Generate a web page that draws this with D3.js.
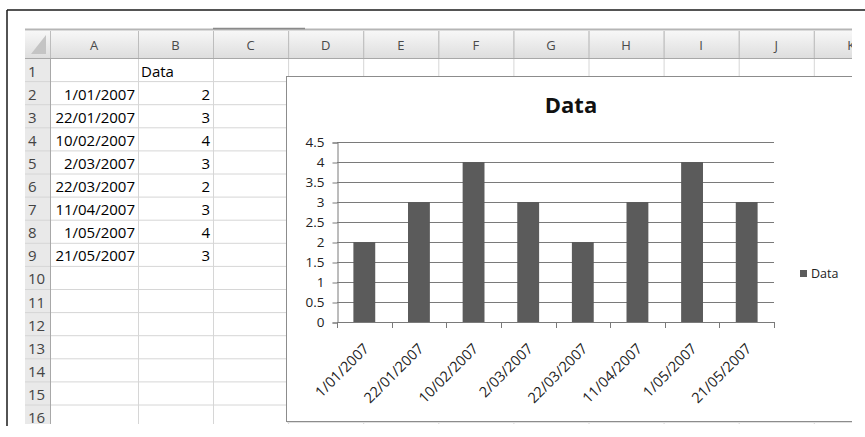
<!DOCTYPE html>
<html>
<head>
<meta charset="utf-8">
<script src="https://cdn.jsdelivr.net/npm/d3@7"></script>
<style>
  body { margin: 0; background: #fff; }
  svg { display: block; font-family: "Open Sans", sans-serif; }
</style>
</head>
<body>
<div id="sheet"></div>
<script>
// data
const dates = ["1/01/2007", "22/01/2007", "10/02/2007", "2/03/2007", "22/03/2007", "11/04/2007", "1/05/2007", "21/05/2007"];
const values = [2, 3, 4, 3, 2, 3, 4, 3];
const yTicks = [0, 0.5, 1, 1.5, 2, 2.5, 3, 3.5, 4, 4.5];
const columns = ["A", "B", "C", "D", "E", "F", "G", "H", "I", "J", "K"];
const rowNumbers = d3.range(1, 17);
const seriesName = "Data";

const W = 865, H = 437;

const svg = d3.select("#sheet").append("svg")
  .attr("width", W)
  .attr("height", H);

const defs = svg.append("defs");

defs.append("clipPath").attr("id", "sheetClip")
  .append("rect").attr("x", 8).attr("y", 11).attr("width", 844).attr("height", 413);

const hdrGrad = defs.append("linearGradient")
  .attr("id", "hdrGrad").attr("x1", 0).attr("y1", 0).attr("x2", 0).attr("y2", 1);
hdrGrad.append("stop").attr("offset", "0%").attr("stop-color", "#f7f7f7");
hdrGrad.append("stop").attr("offset", "100%").attr("stop-color", "#dedede");

// outer frame
svg.append("line").attr("x1", 7).attr("y1", 10).attr("x2", W).attr("y2", 10)
  .attr("stroke", "#1a1a1a").attr("stroke-width", 1.5);
svg.append("line").attr("x1", 7).attr("y1", 10).attr("x2", 7).attr("y2", 426)
  .attr("stroke", "#1a1a1a").attr("stroke-width", 1.5);

// ---------- spreadsheet ----------
const sheet = svg.append("g").attr("clip-path", "url(#sheetClip)");

const left = 25, hdrTop = 31, hdrBottom = 58, rowH = 23.1;
const edges = [50, 138, 213];
while (edges.length < columns.length + 1) edges.push(edges[edges.length - 1] + 75.1);

const rowY = d3.scaleLinear().domain([1, 2]).range([hdrBottom, hdrBottom + rowH]);

// top border of the grid
sheet.append("line").attr("x1", left).attr("x2", 852).attr("y1", 29.5).attr("y2", 29.5)
  .attr("stroke", "#b5b5b5").attr("stroke-width", 2);
sheet.append("line").attr("x1", 213).attr("x2", 305).attr("y1", 28.5).attr("y2", 28.5)
  .attr("stroke", "#8a8a8a").attr("stroke-width", 1.5);

// column header band
sheet.append("rect").attr("x", left).attr("y", hdrTop).attr("width", 852 - left).attr("height", hdrBottom - hdrTop)
  .attr("fill", "url(#hdrGrad)");
// row header band
sheet.append("rect").attr("x", left).attr("y", hdrBottom).attr("width", edges[0] - left).attr("height", 400)
  .attr("fill", "#e9e9e9");

// corner triangle
sheet.append("path")
  .attr("d", `M${edges[0] - 4},${hdrTop + 4} L${edges[0] - 4},${hdrBottom - 4} L${left + 6},${hdrBottom - 4} Z`)
  .attr("fill", "#c4c4c4");

// grid lines
sheet.selectAll(".hline").data(rowNumbers).enter().append("line")
  .attr("x1", left).attr("x2", 852)
  .attr("y1", d => rowY(d + 1) + 0.5).attr("y2", d => rowY(d + 1) + 0.5)
  .attr("stroke", "#d6d6d6");
sheet.selectAll(".vline").data(edges).enter().append("line")
  .attr("x1", d => d + 0.5).attr("x2", d => d + 0.5)
  .attr("y1", hdrTop).attr("y2", 430)
  .attr("stroke", (d, i) => i === 0 ? "#a8a8a8" : "#d6d6d6");
sheet.selectAll(".hdrsep").data(edges).enter().append("line")
  .attr("x1", d => d + 0.5).attr("x2", d => d + 0.5)
  .attr("y1", hdrTop).attr("y2", hdrBottom)
  .attr("stroke", "#bdbdbd");
sheet.append("line").attr("x1", left).attr("x2", 852).attr("y1", hdrBottom + 0.5).attr("y2", hdrBottom + 0.5)
  .attr("stroke", "#a8a8a8");

// column letters
sheet.selectAll(".colLbl").data(columns).enter().append("text")
  .attr("x", (d, i) => (edges[i] + edges[i + 1]) / 2)
  .attr("y", 50)
  .attr("text-anchor", "middle")
  .style("font-size", "13px")
  .style("fill", "#4a4a4a")
  .text(d => d);

// row numbers
sheet.selectAll(".rowLbl").data(rowNumbers).enter().append("text")
  .attr("x", 28)
  .attr("y", d => rowY(d) + 18.5)
  .style("font-size", "15px")
  .style("fill", "#444")
  .text(d => d);

// cell contents
sheet.append("text").attr("x", 141).attr("y", rowY(1) + 18.5)
  .style("font-size", "15px").style("fill", "#000").text(seriesName);
sheet.selectAll(".dateCell").data(dates).enter().append("text")
  .attr("x", 135).attr("y", (d, i) => rowY(i + 2) + 18.5)
  .attr("text-anchor", "end")
  .style("font-size", "15px").style("fill", "#000")
  .text(d => d);
sheet.selectAll(".valCell").data(values).enter().append("text")
  .attr("x", 210).attr("y", (d, i) => rowY(i + 2) + 18.5)
  .attr("text-anchor", "end")
  .style("font-size", "15px").style("fill", "#000")
  .text(d => d);

// ---------- embedded chart ----------
const chart = sheet.append("g");

chart.append("rect")
  .attr("x", 287).attr("y", 77).attr("width", 600).attr("height", 346)
  .attr("fill", "#e0e0e0");
chart.append("rect")
  .attr("x", 286.5).attr("y", 76.5).attr("width", 600).attr("height", 345)
  .attr("fill", "#fff")
  .attr("stroke", "#8c8c8c");

const x = d3.scaleBand()
  .domain(dates)
  .range([337, 774])
  .paddingInner(0.6)
  .paddingOuter(0.3);

const y = d3.scaleLinear()
  .domain([0, 4.5])
  .range([322, 142]);

// gridlines
chart.selectAll(".grid").data(yTicks.filter(v => v > 0)).enter().append("line")
  .attr("x1", 337).attr("x2", 774)
  .attr("y1", d => Math.round(y(d)) + 0.5).attr("y2", d => Math.round(y(d)) + 0.5)
  .attr("stroke", "#7a7a7a");

// bars
chart.selectAll(".bar").data(values).enter().append("rect")
  .attr("x", (d, i) => x(dates[i]))
  .attr("width", x.bandwidth())
  .attr("y", d => y(d))
  .attr("height", d => y(0) - y(d))
  .attr("fill", "#5b5b5b");

// y axis
chart.append("g")
  .attr("transform", "translate(337.5,0.5)")
  .call(d3.axisLeft(y).tickValues(yTicks).tickSize(5).tickPadding(8).tickFormat(d3.format("")))
  .call(g => g.select(".domain").attr("stroke", "#7a7a7a"))
  .call(g => g.selectAll(".tick line").attr("stroke", "#7a7a7a"))
  .call(g => g.selectAll("text")
    .style("font-family", "Open Sans, sans-serif")
    .style("font-size", "13.5px")
    .style("fill", "#222"));

// x axis line and boundary ticks
const step = x.step();
const bounds = dates.map(d => x(d) - step * x.paddingInner() / 2);
bounds.push(bounds[bounds.length - 1] + step);
chart.append("line")
  .attr("x1", 337).attr("x2", 774).attr("y1", 322.5).attr("y2", 322.5)
  .attr("stroke", "#7a7a7a");
chart.selectAll(".xtick").data(bounds).enter().append("line")
  .attr("x1", d => Math.round(d) + 0.5).attr("x2", d => Math.round(d) + 0.5)
  .attr("y1", 322).attr("y2", 328)
  .attr("stroke", "#7a7a7a");

// x labels
chart.append("g")
  .attr("transform", "translate(0,322)")
  .call(d3.axisBottom(x).tickSize(0).tickPadding(0))
  .call(g => g.select(".domain").remove())
  .selectAll("text")
  .attr("transform", "translate(2,24) rotate(-45)")
  .attr("dy", "0.35em")
  .style("text-anchor", "end")
  .style("font-family", "Open Sans, sans-serif")
  .style("font-size", "14.5px")
  .style("fill", "#222");

// title
chart.append("text")
  .attr("x", 571).attr("y", 113)
  .attr("text-anchor", "middle")
  .style("font-size", "22px")
  .style("font-weight", "700")
  .style("fill", "#111")
  .text(seriesName);

// legend
chart.append("rect")
  .attr("x", 800).attr("y", 270).attr("width", 7).attr("height", 7)
  .attr("fill", "#5b5b5b");
chart.append("text")
  .attr("x", 811).attr("y", 278)
  .style("font-size", "12.5px")
  .style("fill", "#222")
  .text(seriesName);
</script>
</body>
</html>
